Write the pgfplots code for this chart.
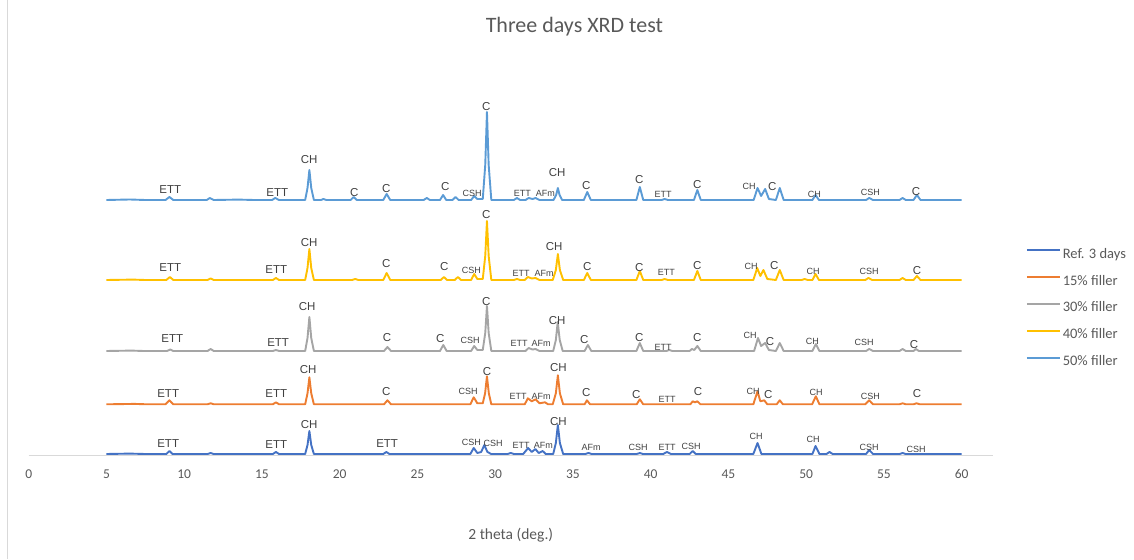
\documentclass[border=0pt]{standalone}
\usepackage{pgfplots}
\pgfplotsset{compat=1.18}
\usepackage{pgfplotstable}
\usepackage{fontspec}
\setmainfont{Carlito}
\newfontfamily\arialf{Liberation Sans}

\definecolor{cref}{HTML}{4472C4}
\definecolor{cfif}{HTML}{ED7D31}
\definecolor{cthi}{HTML}{A5A5A5}
\definecolor{cfor}{HTML}{FFC000}
\definecolor{cfft}{HTML}{5B9BD5}
\definecolor{ctxt}{HTML}{595959}
\definecolor{clbl}{HTML}{404040}
\definecolor{cgrid}{HTML}{D9D9D9}

% peak profiles: 2theta and height above each trace's own baseline
\pgfplotstableread[row sep=\\]{
tt h\\ 5 0\\ 6.5 0.4\\ 7.5 0\\
8.85 0\\ 9.05 3\\ 9.25 0\\ 11.5 0\\ 11.7 1\\ 11.9 0\\ 15.7 0\\ 15.9 2\\ 16.1 0\\
17.78 0\\ 17.93 9\\ 18.05 23\\ 18.17 9\\ 18.34 0\\ 22.8 0\\ 23.0 2\\ 23.2 0\\
28.4 0\\ 28.62 6\\ 28.85 1\\ 29.1 2\\ 29.3 9\\ 29.5 2\\ 29.75 0\\ 30.8 0\\ 31.0 1\\ 31.2 0\\
31.8 0\\ 32.12 6\\ 32.35 2\\ 32.58 5\\ 32.8 1\\ 33.05 3\\ 33.25 0\\
33.73 0\\ 33.9 11\\ 34.03 29\\ 34.16 11\\ 34.37 0\\ 35.8 0\\ 36.0 1\\ 36.2 0\\
39.1 0\\ 39.3 1\\ 39.5 0\\ 40.8 0\\ 41.05 2\\ 41.3 0\\ 42.5 0\\ 42.7 3\\ 42.9 0\\
46.6 0\\ 46.87 11\\ 47.12 0\\ 50.4 0\\ 50.6 8\\ 50.85 0\\ 51.3 0\\ 51.5 2\\ 51.7 0\\
53.85 0\\ 54.05 4\\ 54.3 0\\ 56.0 0\\ 56.2 1\\ 56.4 0\\ 60 0\\
}\tref

\pgfplotstableread[row sep=\\]{
tt h\\ 5 0\\ 6.8 0.4\\ 7.6 0\\
8.8 0\\ 9.05 4\\ 9.3 0\\ 11.5 0\\ 11.7 1\\ 11.9 0\\ 15.7 0\\ 15.9 2\\ 16.1 0\\
17.78 0\\ 17.93 11\\ 18.05 27\\ 18.17 11\\ 18.34 0\\ 22.85 0\\ 23.07 4\\ 23.3 0\\
28.4 0\\ 28.62 7\\ 28.85 1\\ 29.2 1\\ 29.35 11\\ 29.47 28\\ 29.59 11\\ 29.75 0\\
31.9 0\\ 32.1 6\\ 32.35 3\\ 32.6 5\\ 32.85 1\\ 33.2 2\\ 33.4 0\\
33.7 0\\ 33.9 11\\ 34.03 29\\ 34.16 11\\ 34.37 0\\ 35.75 0\\ 35.9 4\\ 36.1 0\\
39.1 0\\ 39.3 5\\ 39.52 0\\ 42.55 0\\ 42.7 3\\ 42.85 2\\ 43.0 3\\ 43.2 0\\
46.6 0\\ 46.87 13\\ 47.05 3\\ 47.3 4\\ 47.5 0\\ 48.1 0\\ 48.3 4\\ 48.5 0\\
50.38 0\\ 50.62 8\\ 50.85 0\\ 53.8 0\\ 54.05 4\\ 54.3 0\\
56.0 0\\ 56.2 1\\ 56.4 0\\ 56.9 0\\ 57.1 1\\ 57.3 0\\ 60 0\\
}\tfif

\pgfplotstableread[row sep=\\]{
tt h\\ 5 0\\ 6.6 0.4\\ 7.4 0\\
8.9 0\\ 9.1 1.5\\ 9.3 0\\ 11.5 0\\ 11.7 2\\ 11.9 0\\ 15.7 0\\ 15.9 1\\ 16.1 0\\
17.78 0\\ 17.93 13\\ 18.05 34\\ 18.17 13\\ 18.34 0\\ 22.85 0\\ 23.07 4\\ 23.3 0\\
26.45 0\\ 26.66 6\\ 26.88 0\\
28.45 0\\ 28.65 5\\ 28.85 1\\ 29.2 1\\ 29.36 18\\ 29.47 45\\ 29.58 18\\ 29.75 0\\
31.95 0\\ 32.15 3\\ 32.4 1.5\\ 32.6 2\\ 32.85 0\\
33.73 0\\ 33.9 11\\ 34.02 29\\ 34.15 11\\ 34.34 0\\ 35.75 0\\ 35.96 6\\ 36.18 0\\
39.08 0\\ 39.3 8\\ 39.52 0\\ 41.0 0\\ 41.2 1\\ 41.4 0\\
42.5 0\\ 42.65 2\\ 42.8 1\\ 43.0 5\\ 43.22 0\\
46.65 0\\ 46.9 13\\ 47.1 5\\ 47.36 8\\ 47.6 1\\ 48.05 0\\ 48.3 8\\ 48.55 0\\
50.4 0\\ 50.62 7\\ 50.85 0\\ 53.85 0\\ 54.05 2\\ 54.3 0\\
56.0 0\\ 56.2 2\\ 56.4 0\\ 56.9 0\\ 57.05 2\\ 57.25 0\\ 60 0\\
}\tthi

\pgfplotstableread[row sep=\\]{
tt h\\ 5 0\\ 6.7 0.4\\ 7.5 0\\
8.85 0\\ 9.08 3\\ 9.3 0\\ 11.5 0\\ 11.7 1.5\\ 11.9 0\\ 15.7 0\\ 15.9 2\\ 16.1 0\\
17.78 0\\ 17.93 12\\ 18.05 31\\ 18.17 12\\ 18.34 0\\ 20.8 0\\ 21.0 1\\ 21.2 0\\
22.8 0\\ 23.02 7\\ 23.25 0\\ 26.5 0\\ 26.7 3\\ 26.9 0\\ 27.4 0\\ 27.6 3\\ 27.8 0\\
28.45 0\\ 28.65 6\\ 28.85 1\\ 29.2 1\\ 29.36 24\\ 29.47 59\\ 29.58 24\\ 29.75 0\\
31.2 0\\ 31.4 1\\ 31.6 0\\ 31.9 0\\ 32.1 3\\ 32.35 1.5\\ 32.6 2\\ 32.85 0\\
33.7 0\\ 33.9 10\\ 34.03 26\\ 34.16 10\\ 34.37 0\\ 35.7 0\\ 35.92 7\\ 36.15 0\\
39.08 0\\ 39.3 9\\ 39.52 0\\ 40.7 0\\ 40.9 1\\ 41.1 0\\ 42.78 0\\ 43.0 9\\ 43.22 0\\
46.6 0\\ 46.85 12\\ 47.05 4\\ 47.25 10\\ 47.5 1\\ 48.05 0\\ 48.3 10\\ 48.55 0\\
49.7 0\\ 49.9 1\\ 50.1 0\\ 50.4 0\\ 50.6 6\\ 50.82 0\\ 53.8 0\\ 54.0 2\\ 54.25 0\\
56.0 0\\ 56.2 2\\ 56.4 0\\ 56.9 0\\ 57.12 4\\ 57.35 0\\ 60 0\\
}\tfor

\pgfplotstableread[row sep=\\]{
tt h\\ 5 0\\ 6.5 0.5\\ 7.5 0\\
8.8 0\\ 9.05 3\\ 9.3 0\\ 11.45 0\\ 11.65 2\\ 11.9 0\\ 13.5 0.4\\ 14.5 0\\ 15.65 0\\ 15.85 2\\ 16.1 0\\
17.78 0\\ 17.93 12\\ 18.05 30\\ 18.17 12\\ 18.34 0\\ 18.8 0\\ 18.95 1\\ 19.15 0\\
20.7 0\\ 20.9 3\\ 21.1 0\\ 22.8 0\\ 23.02 6\\ 23.25 0\\ 25.4 0\\ 25.6 2\\ 25.8 0\\
26.45 0\\ 26.65 5\\ 26.85 0\\ 27.25 0\\ 27.45 3\\ 27.65 0\\
28.45 0\\ 28.65 4\\ 28.85 1\\ 29.2 1\\ 29.36 35\\ 29.47 88\\ 29.58 35\\ 29.75 0\\
31.2 0\\ 31.4 2\\ 31.6 0\\ 31.95 0\\ 32.15 2\\ 32.4 1\\ 32.6 2\\ 32.85 0\\
33.75 0\\ 33.92 5\\ 34.03 12\\ 34.14 5\\ 34.3 0\\ 35.7 0\\ 35.92 8\\ 36.15 0\\
39.08 0\\ 39.3 13\\ 39.52 0\\ 40.7 0\\ 40.9 1\\ 41.1 0\\ 42.78 0\\ 43.0 10\\ 43.22 0\\
46.62 0\\ 46.87 12\\ 47.1 4\\ 47.36 11\\ 47.6 1\\ 48.05 0\\ 48.3 12\\ 48.55 0\\
50.4 0\\ 50.6 5\\ 50.82 0\\ 53.85 0\\ 54.05 2\\ 54.3 0\\ 56.0 0\\ 56.2 2\\ 56.4 0\\
56.9 0\\ 57.12 5\\ 57.35 0\\ 60 0\\
}\tfft

\tikzset{
  pkb/.style={font=\arialf\fontsize{11.5}{12}\selectfont, text=clbl, inner sep=0pt, anchor=center},
  pks/.style={font=\arialf\fontsize{9}{10}\selectfont, text=clbl, inner sep=0pt, anchor=center},
}
\newcommand\LB[3]{\node[pkb] at (axis cs:#1,#2) {#3};}
\newcommand\LS[3]{\node[pks] at (axis cs:#1,#2) {#3};}

\begin{document}
\begin{tikzpicture}
\useasboundingbox (0pt,0pt) rectangle (1134pt,559pt);
\draw[cgrid, line width=0.75pt] (7pt,0pt) -- (7pt,559pt);
\begin{axis}[
  at={(28.7pt,103.5pt)}, anchor=south west,
  scale only axis, width=964.1pt, height=396pt,
  xmin=0, xmax=62, ymin=103.5, ymax=499.5,
  clip=false,
  axis x line*=bottom, axis y line=none,
  axis line style={cgrid, line width=0.75pt, -},
  xtick={0,5,...,60}, ytick=\empty,
  major tick length=0pt,
  /pgf/number format/assume math mode=true,
  xticklabel style={font=\fontsize{13.5}{16}\selectfont, text=ctxt, anchor=base, yshift=-23.3pt},
  xlabel={2 theta (deg.)},
  xlabel style={at={(axis description cs:0.5,-0.2)}, anchor=center,
    font=\fontsize{15.5}{18}\selectfont, text=ctxt},
  title={Three days XRD test},
  title style={at={(axis description cs:0.566,1.067)}, anchor=center,
    font=\fontsize{22}{26}\selectfont, text=ctxt},
  legend style={at={(axis description cs:1.034,0.524)}, anchor=north west,
    draw=none, fill=none, inner sep=0pt, row sep=13.9pt,
    font=\fontsize{14.5}{17}\selectfont, text=ctxt,
    nodes={inner sep=0pt, text height=10pt, text depth=3pt},
    /tikz/every odd column/.append style={column sep=2pt}},
  legend cell align=left,
  legend image code/.code={\draw[#1, line width=2pt] (0pt,4.5pt) -- (33pt,4.5pt);},
  every axis plot/.append style={line width=1.9pt, line join=round},
]
\addplot[cref] table[x=tt, y expr=\thisrow{h}+105]{\tref};
\addplot[cfif] table[x=tt, y expr=\thisrow{h}+154.7]{\tfif};
\addplot[cthi] table[x=tt, y expr=\thisrow{h}+208]{\tthi};
\addplot[cfor] table[x=tt, y expr=\thisrow{h}+279]{\tfor};
\addplot[cfft] table[x=tt, y expr=\thisrow{h}+359]{\tfft};
\legend{Ref. 3 days, 15\% filler, 30\% filler, 40\% filler, 50\% filler}

% phase labels, 50% filler
\LB{9.10}{369}{ETT} \LB{15.98}{366}{ETT} \LB{18.04}{399}{CH} \LB{20.93}{366}{C}
\LB{22.99}{370}{C} \LB{26.79}{372}{C} \LS{28.52}{366}{CSH} \LB{29.42}{452}{C}
\LS{31.74}{366}{ETT} \LS{33.22}{366}{AFm} \LB{33.99}{386}{CH} \LB{35.85}{373}{C}
\LB{39.26}{379}{C} \LS{40.80}{365}{ETT} \LB{43.0}{374}{C} \LS{46.33}{373}{CH}
\LB{47.81}{372}{C} \LS{50.52}{365}{CH} \LS{54.12}{367}{CSH} \LB{57.07}{367}{C}
% 40% filler
\LB{9.10}{291}{ETT} \LB{15.92}{289}{ETT} \LB{18.04}{316}{CH} \LB{22.99}{295}{C}
\LB{26.72}{292}{C} \LS{28.46}{289}{CSH} \LB{29.42}{344}{C} \LS{31.67}{286}{ETT}
\LS{33.15}{286}{AFm} \LB{33.79}{312}{CH} \LB{35.92}{292}{C} \LB{39.26}{291}{C}
\LS{41.0}{287}{ETT} \LB{43.0}{293}{C} \LS{46.46}{293}{CH} \LB{47.94}{293}{C}
\LS{50.45}{288}{CH} \LS{54.05}{288}{CSH} \LB{57.13}{288}{C}
% 30% filler
\LB{9.23}{220}{ETT} \LB{16.04}{216}{ETT} \LB{17.91}{252}{CH} \LB{23.05}{221}{C}
\LB{26.46}{220}{C} \LS{28.39}{219}{CSH} \LB{29.42}{257}{C} \LS{31.54}{216}{ETT}
\LS{32.96}{216}{AFm} \LB{33.99}{238}{CH} \LB{35.73}{219}{C} \LB{39.26}{221}{C}
\LS{40.80}{212}{ETT} \LB{43.0}{221}{C} \LS{46.40}{224}{CH} \LB{47.68}{217}{C}
\LS{50.39}{218}{CH} \LS{53.73}{217}{CSH} \LB{56.94}{214}{C}
% 15% filler
\LB{8.97}{165}{ETT} \LB{15.92}{165}{ETT} \LB{17.97}{189}{CH} \LB{22.99}{167}{C}
\LS{28.26}{168}{CSH} \LB{29.48}{187}{C} \LS{31.48}{163}{ETT} \LS{32.96}{163}{AFm}
\LB{34.06}{191}{CH} \LB{35.85}{166}{C} \LB{39.07}{164}{C} \LS{41.06}{160}{ETT}
\LB{43.05}{167}{C} \LS{46.59}{168}{CH} \LB{47.56}{164}{C} \LS{50.64}{167}{CH}
\LS{54.12}{163}{CSH} \LB{57.13}{165}{C}
% reference mix
\LB{8.97}{115}{ETT} \LB{15.92}{114}{ETT} \LB{18.04}{134}{CH} \LB{23.05}{115}{ETT}
\LS{28.46}{117}{CSH} \LS{29.87}{116}{CSH} \LS{31.67}{114}{ETT} \LS{33.09}{114}{AFm}
\LB{34.06}{137}{CH} \LS{36.17}{112}{AFm} \LS{39.19}{112}{CSH} \LS{41.06}{112}{ETT}
\LS{42.60}{113}{CSH} \LS{46.78}{123}{CH} \LS{50.45}{120}{CH} \LS{54.05}{112}{CSH}
\LS{57.07}{110}{CSH}
\end{axis}
\end{tikzpicture}
\end{document}
